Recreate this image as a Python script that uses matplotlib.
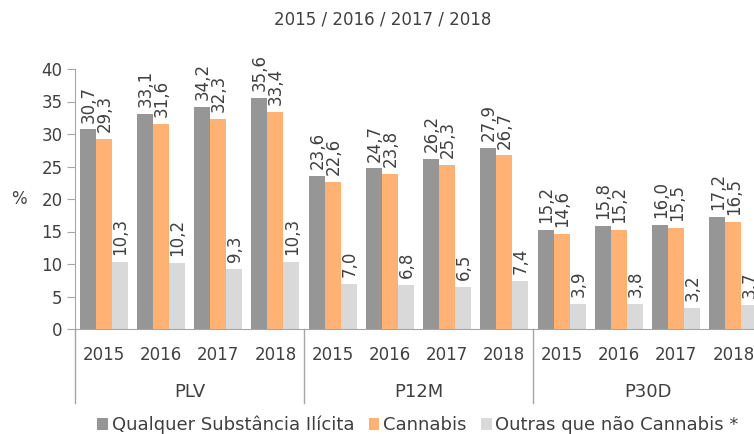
import matplotlib
matplotlib.use("Agg")
import matplotlib.pyplot as plt
import numpy as np

# data
groups = ["PLV", "P12M", "P30D"]
years = ["2015", "2016", "2017", "2018"]
qualquer = [30.7, 33.1, 34.2, 35.6, 23.6, 24.7, 26.2, 27.9, 15.2, 15.8, 16.0, 17.2]
cannabis = [29.3, 31.6, 32.3, 33.4, 22.6, 23.8, 25.3, 26.7, 14.6, 15.2, 15.5, 16.5]
outras = [10.3, 10.2, 9.3, 10.3, 7.0, 6.8, 6.5, 7.4, 3.9, 3.8, 3.2, 3.7]
series_names = ["Qualquer Substância Ilícita", "Cannabis", "Outras que não Cannabis *"]
colors = ["#969696", "#FFB274", "#D9D9D9"]

txt = "#404040"
plt.rcParams["font.family"] = "DejaVu Sans"

fig = plt.figure(figsize=(7.54, 4.34), dpi=100)
# axes extends past the right edge (last group clipped like in the original)
ax = fig.add_axes([75 / 754, 105 / 434, 687 / 754, 260 / 434])

n = len(qualquer)
x = np.arange(n)
w = 0.28
for i, (vals, col) in enumerate(zip([qualquer, cannabis, outras], colors)):
    pos = x + (i - 1) * w
    ax.bar(pos, vals, width=w, color=col, label=series_names[i], zorder=2)
    for px, v in zip(pos, vals):
        ax.annotate(f"{v:.1f}".replace(".", ","), xy=(px, v), xytext=(0.5, 5),
                    textcoords="offset points", rotation=90, ha="center",
                    va="bottom", fontsize=12, color=txt, annotation_clip=False)

ax.set_xlim(-0.5, n - 0.5)
ax.set_ylim(0, 40)
ax.set_yticks(range(0, 41, 5))
ax.tick_params(axis="y", direction="out", length=6, color="#A6A6A6",
               labelsize=12, labelcolor=txt, pad=3)
ax.set_xticks([])
for s in ["top", "right"]:
    ax.spines[s].set_visible(False)
for s in ["left", "bottom"]:
    ax.spines[s].set_color("#A6A6A6")

# year labels and group labels below
for i in range(n):
    ax.text(i, -0.1, years[i % 4], transform=ax.get_xaxis_transform(),
            ha="center", va="center", fontsize=12, color=txt, clip_on=False)
for g, name in enumerate(groups):
    ax.text(g * 4 + 1.5, -0.243, name, transform=ax.get_xaxis_transform(),
            ha="center", va="center", fontsize=13, color=txt, clip_on=False)
for b in [-0.5, 3.5, 7.5]:
    ax.plot([b, b], [0, -0.285], transform=ax.get_xaxis_transform(),
            color="#A6A6A6", lw=1, clip_on=False)

ax.set_ylabel("%", rotation=0, fontsize=12, color=txt, va="center")
ax.yaxis.set_label_coords(-0.082, 0.5)

fig.text(383 / 754, 1 - 20 / 434, "2015 / 2016 / 2017 / 2018", ha="center",
         va="center", fontsize=12, color=txt)

fig.legend(loc="center", bbox_to_anchor=(418 / 754, 1 - 425 / 434), ncol=3,
           frameon=False, fontsize=13, handlelength=0.6, handleheight=0.6,
           handletextpad=0.2, columnspacing=0.8, labelcolor=txt,
           borderpad=0, borderaxespad=0)

fig.savefig("out.png", dpi=100)
